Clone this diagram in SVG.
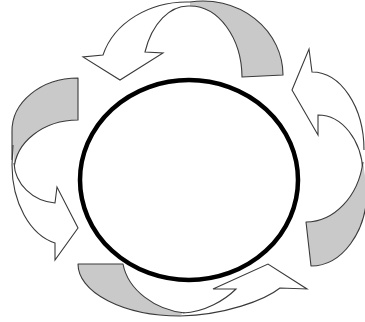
<svg xmlns="http://www.w3.org/2000/svg" width="365" height="322" viewBox="0 0 365 322">
  <style>
    .back { fill: #c9c9c9; stroke: #3a3a3a; stroke-width: 1.1; stroke-linejoin: round; }
    .front { fill: #ffffff; stroke: #3a3a3a; stroke-width: 1.1; stroke-linejoin: miter; }
    .ring { fill: none; stroke: #000000; stroke-width: 4.5; }
  </style>
  <rect x="0" y="0" width="365" height="322" fill="#ffffff"/>
  <g id="connectors">
    <g id="arrow-top">
      <path class="back" d="M 190,6 A 52 72 0 0 1 242,77 L 283,75 A 80 74 0 0 0 190,2"/>
      <path class="front" d="M 190,2 A 87 73 0 0 0 103,55 L 83,57 L 120,80 L 163,53 L 145,52 A 46 70 0 0 1 190,6"/>
    </g>
    <g id="arrow-right">
      <path class="front" d="M 364,150 A 52 78 0 0 0 312,72 L 309,49 L 292,90 L 318,135 L 318,115 A 45 60 0 0 1 363,172"/>
      <path class="back" d="M 363,162 A 58 72 0 0 1 306,222 L 311,266 A 56 76 0 0 0 367,190"/>
    </g>
    <g id="arrow-bottom">
      <path class="back" d="M 180,316 A 102 52 0 0 1 78,264 L 123,264 C 128,290 155,310 185,313"/>
      <path class="front" d="M 183,313 C 205,312 225,300 236,289 L 213,289 L 268,264 L 307,289 L 280,288 C 265,300 225,315 180,316"/>
    </g>
    <g id="arrow-left">
      <path class="back" d="M 12,160 L 12,132 A 66 53 0 0 1 78,78 L 78,120 A 64 52 0 0 0 14,170"/>
      <path class="front" d="M 13,145 L 12,165 A 55 80 0 0 0 55,243 L 55,260 L 78,228 L 57,187 L 55,203 A 45 42 0 0 1 14,163"/>
    </g>
  </g>
  <g id="circle">
    <ellipse class="ring" cx="189" cy="180" rx="109" ry="100"/>
  </g>
</svg>
